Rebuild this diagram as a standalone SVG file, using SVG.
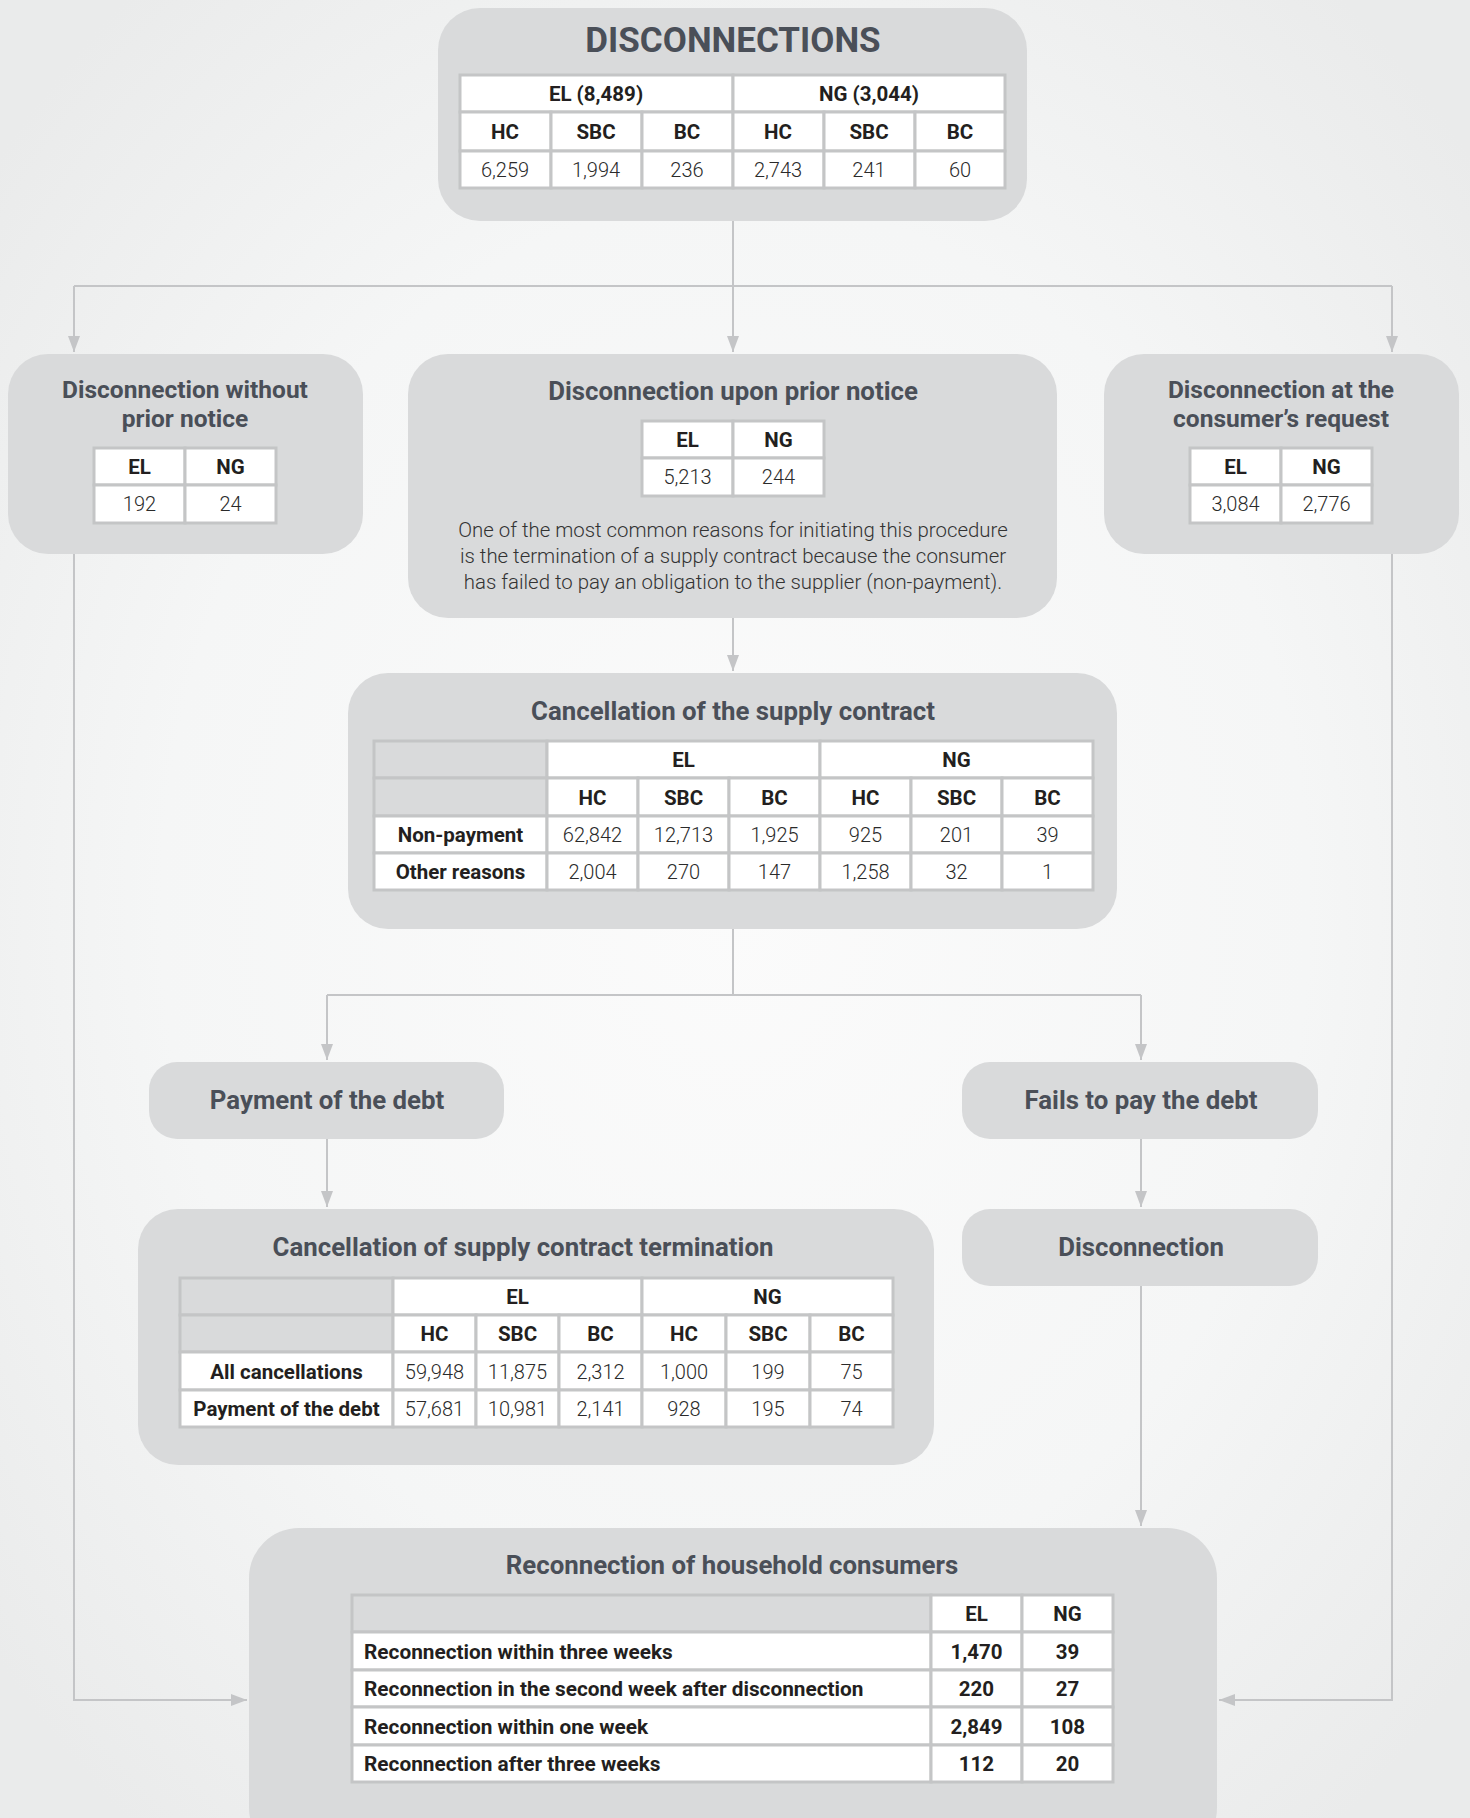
<svg xmlns="http://www.w3.org/2000/svg" width="1470" height="1818" viewBox="0 0 1470 1818">
<defs>
<radialGradient id="bgg" cx="50%" cy="50%" r="65%">
<stop offset="0" stop-color="#fbfbfb"/>
<stop offset="0.6" stop-color="#f5f6f6"/>
<stop offset="1" stop-color="#eaebeb"/>
</radialGradient>
<marker id="arr" viewBox="0 0 16 12" refX="16" refY="6" markerWidth="16" markerHeight="12" markerUnits="userSpaceOnUse" orient="auto">
<path d="M0,0 L16,6 L0,12 z" fill="#c4c5c7"/>
</marker>
<style>
.box{fill:#d9dadb}
.c{fill:#fff;stroke:#c4c5c6;stroke-width:3}
.g{fill:#d9dadb;stroke:#c4c5c6;stroke-width:3}
.h{font-family:Roboto,"Liberation Sans",sans-serif;font-weight:700;font-size:20.5px;fill:#231f20;text-anchor:middle}
.n{font-family:Roboto,"Liberation Sans",sans-serif;font-weight:300;font-size:20px;fill:#2a2a2a;text-anchor:middle}
.l{font-family:Roboto,"Liberation Sans",sans-serif;font-weight:700;font-size:20.8px;fill:#231f20}
.t{font-family:Roboto,"Liberation Sans",sans-serif;font-weight:700;font-size:25.8px;fill:#4a4f58;text-anchor:middle}
.t2{font-family:Roboto,"Liberation Sans",sans-serif;font-weight:700;font-size:24.5px;fill:#4a4f58;text-anchor:middle}
.big{font-family:Roboto,"Liberation Sans",sans-serif;font-weight:700;font-size:35px;fill:#4a4f58;text-anchor:middle}
.p{font-family:Roboto,"Liberation Sans",sans-serif;font-weight:300;font-size:20.4px;fill:#333;text-anchor:middle}
.conn{fill:none;stroke:#c4c5c7;stroke-width:2}
</style>
</defs>
<rect x="0" y="0" width="1470" height="1818" fill="url(#bgg)"/>

<g id="connectors">
<path class="conn" d="M733,221 V286"/>
<path class="conn" d="M74,286 H1392"/>
<path class="conn" d="M74,286 V352" marker-end="url(#arr)"/>
<path class="conn" d="M733,286 V352" marker-end="url(#arr)"/>
<path class="conn" d="M1392,286 V352" marker-end="url(#arr)"/>
<path class="conn" d="M733,618 V671" marker-end="url(#arr)"/>
<path class="conn" d="M74,554 V1700 H247" marker-end="url(#arr)"/>
<path class="conn" d="M1392,554 V1700 H1219" marker-end="url(#arr)"/>
<path class="conn" d="M733,929 V995"/>
<path class="conn" d="M327,995 H1141"/>
<path class="conn" d="M327,995 V1060" marker-end="url(#arr)"/>
<path class="conn" d="M1141,995 V1060" marker-end="url(#arr)"/>
<path class="conn" d="M327,1139 V1207" marker-end="url(#arr)"/>
<path class="conn" d="M1141,1139 V1207" marker-end="url(#arr)"/>
<path class="conn" d="M1141,1286 V1526" marker-end="url(#arr)"/>
</g>

<g id="disconnections">
<rect class="box" x="438" y="8" width="589" height="213" rx="42"/>
<text class="big" x="733" y="52">DISCONNECTIONS</text>
<rect class="c" x="460" y="75" width="273" height="37"/>
<rect class="c" x="733" y="75" width="272" height="37"/>
<rect class="c" x="460" y="112" width="91" height="39"/>
<rect class="c" x="551" y="112" width="91" height="39"/>
<rect class="c" x="642" y="112" width="91" height="39"/>
<rect class="c" x="733" y="112" width="91" height="39"/>
<rect class="c" x="824" y="112" width="91" height="39"/>
<rect class="c" x="915" y="112" width="90" height="39"/>
<rect class="c" x="460" y="151" width="91" height="37"/>
<rect class="c" x="551" y="151" width="91" height="37"/>
<rect class="c" x="642" y="151" width="91" height="37"/>
<rect class="c" x="733" y="151" width="91" height="37"/>
<rect class="c" x="824" y="151" width="91" height="37"/>
<rect class="c" x="915" y="151" width="90" height="37"/>
<text class="h" x="596" y="101">EL (8,489)</text>
<text class="h" x="869" y="101">NG (3,044)</text>
<text class="h" x="505" y="139">HC</text>
<text class="h" x="596" y="139">SBC</text>
<text class="h" x="687" y="139">BC</text>
<text class="h" x="778" y="139">HC</text>
<text class="h" x="869" y="139">SBC</text>
<text class="h" x="960" y="139">BC</text>
<text class="n" x="505" y="177">6,259</text>
<text class="n" x="596" y="177">1,994</text>
<text class="n" x="687" y="177">236</text>
<text class="n" x="778" y="177">2,743</text>
<text class="n" x="869" y="177">241</text>
<text class="n" x="960" y="177">60</text>
</g>

<g id="without-notice">
<rect class="box" x="8" y="354" width="355" height="200" rx="40"/>
<text class="t2" x="185" y="398">Disconnection without</text>
<text class="t2" x="185" y="427">prior notice</text>
<rect class="c" x="94" y="448" width="91" height="37"/>
<rect class="c" x="185" y="448" width="91" height="37"/>
<rect class="c" x="94" y="485" width="91" height="38"/>
<rect class="c" x="185" y="485" width="91" height="38"/>
<text class="h" x="139.5" y="474">EL</text>
<text class="h" x="230.5" y="474">NG</text>
<text class="n" x="139.5" y="511">192</text>
<text class="n" x="230.5" y="511">24</text>
</g>

<g id="prior-notice">
<rect class="box" x="408" y="354" width="649" height="264" rx="40"/>
<text class="t" x="733" y="400">Disconnection upon prior notice</text>
<rect class="c" x="642" y="421" width="91" height="37"/>
<rect class="c" x="733" y="421" width="91" height="37"/>
<rect class="c" x="642" y="458" width="91" height="38"/>
<rect class="c" x="733" y="458" width="91" height="38"/>
<text class="h" x="687.5" y="447">EL</text>
<text class="h" x="778.5" y="447">NG</text>
<text class="n" x="687.5" y="484">5,213</text>
<text class="n" x="778.5" y="484">244</text>
<text class="p" x="733" y="537">One of the most common reasons for initiating this procedure</text>
<text class="p" x="733" y="563">is the termination of a supply contract because the consumer</text>
<text class="p" x="733" y="589">has failed to pay an obligation to the supplier (non-payment).</text>
</g>

<g id="consumer-request">
<rect class="box" x="1104" y="354" width="355" height="200" rx="40"/>
<text class="t2" x="1281" y="398">Disconnection at the</text>
<text class="t2" x="1281" y="427">consumer’s request</text>
<rect class="c" x="1190" y="448" width="91" height="37"/>
<rect class="c" x="1281" y="448" width="91" height="37"/>
<rect class="c" x="1190" y="485" width="91" height="38"/>
<rect class="c" x="1281" y="485" width="91" height="38"/>
<text class="h" x="1235.5" y="474">EL</text>
<text class="h" x="1326.5" y="474">NG</text>
<text class="n" x="1235.5" y="511">3,084</text>
<text class="n" x="1326.5" y="511">2,776</text>
</g>

<g id="cancellation">
<rect class="box" x="348" y="673" width="769" height="256" rx="40"/>
<text class="t" x="733" y="720">Cancellation of the supply contract</text>
<rect class="g" x="374" y="741" width="173" height="37"/>
<rect class="c" x="547" y="741" width="273" height="37"/>
<rect class="c" x="820" y="741" width="273" height="37"/>
<rect class="g" x="374" y="778" width="173" height="38"/>
<rect class="c" x="547" y="778" width="91" height="38"/>
<rect class="c" x="638" y="778" width="91" height="38"/>
<rect class="c" x="729" y="778" width="91" height="38"/>
<rect class="c" x="820" y="778" width="91" height="38"/>
<rect class="c" x="911" y="778" width="91" height="38"/>
<rect class="c" x="1002" y="778" width="91" height="38"/>
<rect class="c" x="374" y="816" width="173" height="37"/>
<rect class="c" x="547" y="816" width="91" height="37"/>
<rect class="c" x="638" y="816" width="91" height="37"/>
<rect class="c" x="729" y="816" width="91" height="37"/>
<rect class="c" x="820" y="816" width="91" height="37"/>
<rect class="c" x="911" y="816" width="91" height="37"/>
<rect class="c" x="1002" y="816" width="91" height="37"/>
<rect class="c" x="374" y="853" width="173" height="37"/>
<rect class="c" x="547" y="853" width="91" height="37"/>
<rect class="c" x="638" y="853" width="91" height="37"/>
<rect class="c" x="729" y="853" width="91" height="37"/>
<rect class="c" x="820" y="853" width="91" height="37"/>
<rect class="c" x="911" y="853" width="91" height="37"/>
<rect class="c" x="1002" y="853" width="91" height="37"/>
<text class="h" x="683.5" y="767">EL</text>
<text class="h" x="956.5" y="767">NG</text>
<text class="h" x="592.5" y="805">HC</text>
<text class="h" x="683.5" y="805">SBC</text>
<text class="h" x="774.5" y="805">BC</text>
<text class="h" x="865.5" y="805">HC</text>
<text class="h" x="956.5" y="805">SBC</text>
<text class="h" x="1047.5" y="805">BC</text>
<text class="h" x="460.5" y="842">Non-payment</text>
<text class="n" x="592.5" y="842">62,842</text>
<text class="n" x="683.5" y="842">12,713</text>
<text class="n" x="774.5" y="842">1,925</text>
<text class="n" x="865.5" y="842">925</text>
<text class="n" x="956.5" y="842">201</text>
<text class="n" x="1047.5" y="842">39</text>
<text class="h" x="460.5" y="879">Other reasons</text>
<text class="n" x="592.5" y="879">2,004</text>
<text class="n" x="683.5" y="879">270</text>
<text class="n" x="774.5" y="879">147</text>
<text class="n" x="865.5" y="879">1,258</text>
<text class="n" x="956.5" y="879">32</text>
<text class="n" x="1047.5" y="879">1</text>
</g>

<g id="payment">
<rect class="box" x="149" y="1062" width="355" height="77" rx="28"/>
<text class="t" x="327" y="1109">Payment of the debt</text>
</g>

<g id="fails">
<rect class="box" x="962" y="1062" width="356" height="77" rx="28"/>
<text class="t" x="1141" y="1109">Fails to pay the debt</text>
</g>

<g id="termination">
<rect class="box" x="138" y="1209" width="796" height="256" rx="40"/>
<text class="t" x="523" y="1256">Cancellation of supply contract termination</text>
<rect class="g" x="180" y="1278" width="213" height="37"/>
<rect class="c" x="393" y="1278" width="249" height="37"/>
<rect class="c" x="642" y="1278" width="251" height="37"/>
<rect class="g" x="180" y="1315" width="213" height="37"/>
<rect class="c" x="393" y="1315" width="83" height="37"/>
<rect class="c" x="476" y="1315" width="83" height="37"/>
<rect class="c" x="559" y="1315" width="83" height="37"/>
<rect class="c" x="642" y="1315" width="84" height="37"/>
<rect class="c" x="726" y="1315" width="84" height="37"/>
<rect class="c" x="810" y="1315" width="83" height="37"/>
<rect class="c" x="180" y="1352" width="213" height="38"/>
<rect class="c" x="393" y="1352" width="83" height="38"/>
<rect class="c" x="476" y="1352" width="83" height="38"/>
<rect class="c" x="559" y="1352" width="83" height="38"/>
<rect class="c" x="642" y="1352" width="84" height="38"/>
<rect class="c" x="726" y="1352" width="84" height="38"/>
<rect class="c" x="810" y="1352" width="83" height="38"/>
<rect class="c" x="180" y="1390" width="213" height="37"/>
<rect class="c" x="393" y="1390" width="83" height="37"/>
<rect class="c" x="476" y="1390" width="83" height="37"/>
<rect class="c" x="559" y="1390" width="83" height="37"/>
<rect class="c" x="642" y="1390" width="84" height="37"/>
<rect class="c" x="726" y="1390" width="84" height="37"/>
<rect class="c" x="810" y="1390" width="83" height="37"/>
<text class="h" x="517.5" y="1304">EL</text>
<text class="h" x="767.5" y="1304">NG</text>
<text class="h" x="434.5" y="1341">HC</text>
<text class="h" x="517.5" y="1341">SBC</text>
<text class="h" x="600.5" y="1341">BC</text>
<text class="h" x="684" y="1341">HC</text>
<text class="h" x="768" y="1341">SBC</text>
<text class="h" x="851.5" y="1341">BC</text>
<text class="h" x="286.5" y="1379">All cancellations</text>
<text class="n" x="434.5" y="1379">59,948</text>
<text class="n" x="517.5" y="1379">11,875</text>
<text class="n" x="600.5" y="1379">2,312</text>
<text class="n" x="684" y="1379">1,000</text>
<text class="n" x="768" y="1379">199</text>
<text class="n" x="851.5" y="1379">75</text>
<text class="h" x="286.5" y="1416">Payment of the debt</text>
<text class="n" x="434.5" y="1416">57,681</text>
<text class="n" x="517.5" y="1416">10,981</text>
<text class="n" x="600.5" y="1416">2,141</text>
<text class="n" x="684" y="1416">928</text>
<text class="n" x="768" y="1416">195</text>
<text class="n" x="851.5" y="1416">74</text>
</g>

<g id="disconnection">
<rect class="box" x="962" y="1209" width="356" height="77" rx="28"/>
<text class="t" x="1141" y="1256">Disconnection</text>
</g>

<g id="reconnection">
<rect class="box" x="249" y="1528" width="968" height="330" rx="50"/>
<text class="t" x="732" y="1574">Reconnection of household consumers</text>
<rect class="g" x="352" y="1595" width="579" height="37"/>
<rect class="c" x="931" y="1595" width="91" height="37"/>
<rect class="c" x="1022" y="1595" width="91" height="37"/>
<rect class="c" x="352" y="1632" width="579" height="38"/>
<rect class="c" x="931" y="1632" width="91" height="38"/>
<rect class="c" x="1022" y="1632" width="91" height="38"/>
<rect class="c" x="352" y="1670" width="579" height="37"/>
<rect class="c" x="931" y="1670" width="91" height="37"/>
<rect class="c" x="1022" y="1670" width="91" height="37"/>
<rect class="c" x="352" y="1707" width="579" height="38"/>
<rect class="c" x="931" y="1707" width="91" height="38"/>
<rect class="c" x="1022" y="1707" width="91" height="38"/>
<rect class="c" x="352" y="1745" width="579" height="37"/>
<rect class="c" x="931" y="1745" width="91" height="37"/>
<rect class="c" x="1022" y="1745" width="91" height="37"/>
<text class="h" x="976.5" y="1621">EL</text>
<text class="h" x="1067.5" y="1621">NG</text>
<text class="l" x="364" y="1659">Reconnection within three weeks</text>
<text class="h" x="976.5" y="1659">1,470</text>
<text class="h" x="1067.5" y="1659">39</text>
<text class="l" x="364" y="1696">Reconnection in the second week after disconnection</text>
<text class="h" x="976.5" y="1696">220</text>
<text class="h" x="1067.5" y="1696">27</text>
<text class="l" x="364" y="1734">Reconnection within one week</text>
<text class="h" x="976.5" y="1734">2,849</text>
<text class="h" x="1067.5" y="1734">108</text>
<text class="l" x="364" y="1771">Reconnection after three weeks</text>
<text class="h" x="976.5" y="1771">112</text>
<text class="h" x="1067.5" y="1771">20</text>
</g>
</svg>
